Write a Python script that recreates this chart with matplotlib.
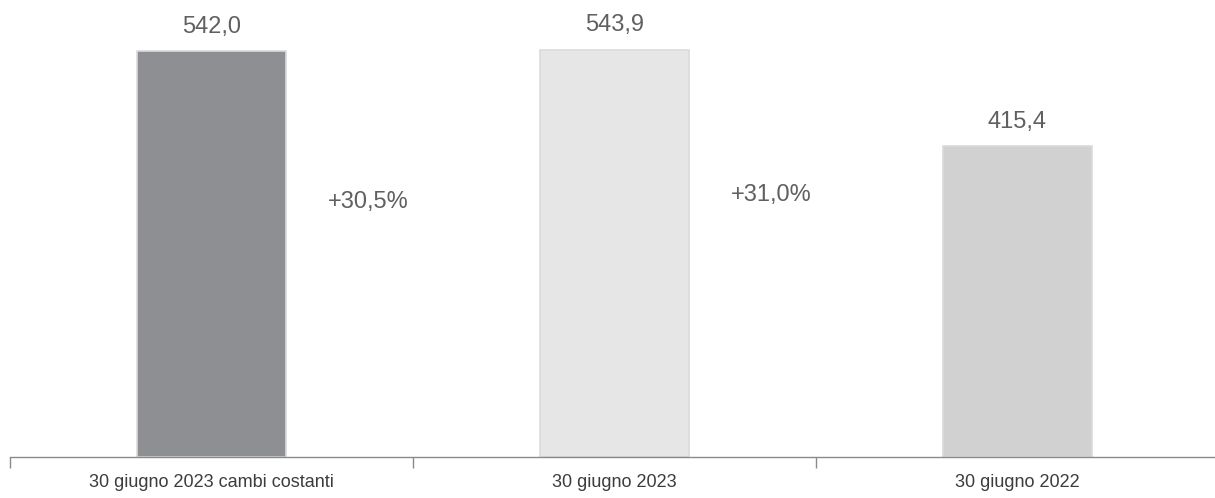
"""Recreate the three-bar comparison chart (30 giugno)."""

import matplotlib

matplotlib.use("Agg")
import matplotlib.pyplot as plt

CATEGORIES = ["30 giugno 2023 cambi costanti", "30 giugno 2023", "30 giugno 2022"]
VALUES = [542.0, 543.9, 415.4]
VALUE_LABELS = ["542,0", "543,9", "415,4"]
BAR_COLORS = ["#8e8f92", "#e6e6e6", "#d1d1d1"]

CHANGE_LABELS = ["+30,5%", "+31,0%"]
CHANGE_X = [0.39, 1.39]
CHANGE_Y = [340, 350]

TEXT_COLOR = "#606060"
AXIS_COLOR = "#8a8a8a"


def main() -> None:
    plt.rcParams["font.family"] = ["Liberation Sans", "DejaVu Sans"]

    fig = plt.figure(figsize=(12.15, 4.98), dpi=100)
    ax = fig.add_axes([10 / 1215, 41 / 498, 1212 / 1215, 449.4 / 498])

    positions = list(range(len(CATEGORIES)))
    ax.bar(
        positions,
        VALUES,
        width=0.372,
        color=BAR_COLORS,
        edgecolor="#dadada",
        linewidth=1.2,
    )

    for pos, value, label in zip(positions, VALUES, VALUE_LABELS):
        ax.annotate(
            label,
            xy=(pos, value),
            xytext=(0, 17.5),
            textcoords="offset points",
            ha="center",
            va="center",
            fontsize=17,
            color=TEXT_COLOR,
        )

    for x, y, label in zip(CHANGE_X, CHANGE_Y, CHANGE_LABELS):
        ax.text(x, y, label, ha="center", va="center", fontsize=17, color=TEXT_COLOR)

    # axis spans a bit past the right edge, as in the original
    ax.set_xlim(-0.5, 2.5075)
    ax.set_ylim(0, 600)

    ax.set_xticks(positions)
    ax.set_xticklabels(CATEGORIES, fontsize=13, color="#3c3c3c")
    ax.tick_params(axis="x", which="major", length=0, pad=12)
    ax.set_xticks([-0.5, 0.5, 1.5], minor=True)
    ax.tick_params(axis="x", which="minor", length=8, width=1, color=AXIS_COLOR, direction="out")

    ax.set_yticks([])
    for side in ["top", "right", "left"]:
        ax.spines[side].set_visible(False)
    ax.spines["bottom"].set_color(AXIS_COLOR)
    ax.spines["bottom"].set_linewidth(1)

    fig.savefig("out.png", dpi=100)
    plt.close(fig)


if __name__ == "__main__":
    main()
